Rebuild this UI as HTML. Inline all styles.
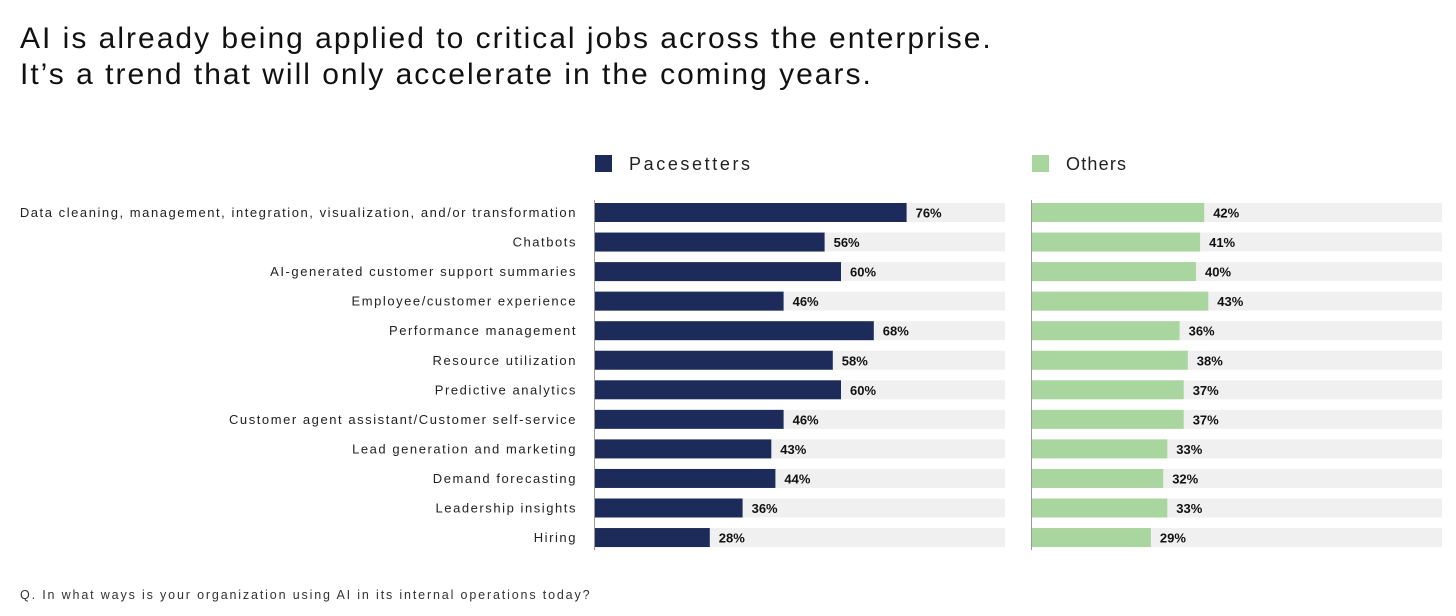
<!DOCTYPE html>
<html><head><meta charset="utf-8"><style>
body{margin:0;width:1456px;height:616px;background:#fff;font-family:"Liberation Sans",sans-serif;overflow:hidden;position:relative}
.t{position:absolute;left:20px;font-size:30px;color:#111;letter-spacing:2px;white-space:nowrap}
</style></head><body>
<div class="t" style="top:22px">AI is already being applied to critical jobs across the enterprise.</div>
<div class="t" style="top:58px">It’s a trend that will only accelerate in the coming years.</div>
<svg id="c" width="1456" height="616" style="position:absolute;left:0;top:0"></svg>
<div style="position:absolute;left:20px;top:588px;font-size:12.5px;letter-spacing:1.85px;color:#333;white-space:nowrap">Q. In what ways is your organization using AI in its internal operations today?</div>
<script>
const categories=["Data cleaning, management, integration, visualization, and/or transformation","Chatbots","AI-generated customer support summaries","Employee/customer experience","Performance management","Resource utilization","Predictive analytics","Customer agent assistant/Customer self-service","Lead generation and marketing","Demand forecasting","Leadership insights","Hiring"];
const pacesetters=[76,56,60,46,68,58,60,46,43,44,36,28];
const others=[42,41,40,43,36,38,37,37,33,32,33,29];
const svg=document.getElementById('c');
const NS='http://www.w3.org/2000/svg';
function mk(t,a,txt){const e=document.createElementNS(NS,t);for(const k in a)e.setAttribute(k,a[k]);if(txt!==undefined)e.textContent=txt;svg.appendChild(e);return e;}
const scale=v=>v*4.1;
const yRow=i=>212.5+i*29.55;
const panels=[{x0:595,vals:pacesetters,col:"#1c2b59",name:"pacesetters",label:"Pacesetters",ls:2.6},{x0:1032,vals:others,col:"#a9d59f",name:"others",label:"Others",ls:1.2}];
categories.forEach((c,i)=>{
 const t=mk('text',{x:577,y:yRow(i)+4.5,'text-anchor':'end','font-size':13,'letter-spacing':1.55,fill:'#222'},c);
 
 
});
panels.forEach(p=>{
 const sq=mk('rect',{x:p.x0,y:155,width:17,height:17,fill:p.col});
 
 
 const lt=mk('text',{x:p.x0+34,y:170,'font-size':18,'letter-spacing':p.ls,fill:'#222'},p.label);
 
 
 p.vals.forEach((v,i)=>{
  const y=yRow(i)-9.5;
  const tr=mk('rect',{x:p.x0,y:y,width:scale(100),height:19,fill:'#f0f0f0'});
  
  
  const b=mk('rect',{x:p.x0,y:y,width:scale(v),height:19,fill:p.col});
  
  
  const vl=mk('text',{x:p.x0+scale(v)+9,y:yRow(i)+5,'font-size':13,'font-weight':'bold',fill:'#111'},v+'%');
  
  
 });
 const ax=mk('line',{x1:p.x0-0.5,x2:p.x0-0.5,y1:200,y2:550,stroke:'#999','stroke-width':1});
 
 
});
</script>
</body></html>
